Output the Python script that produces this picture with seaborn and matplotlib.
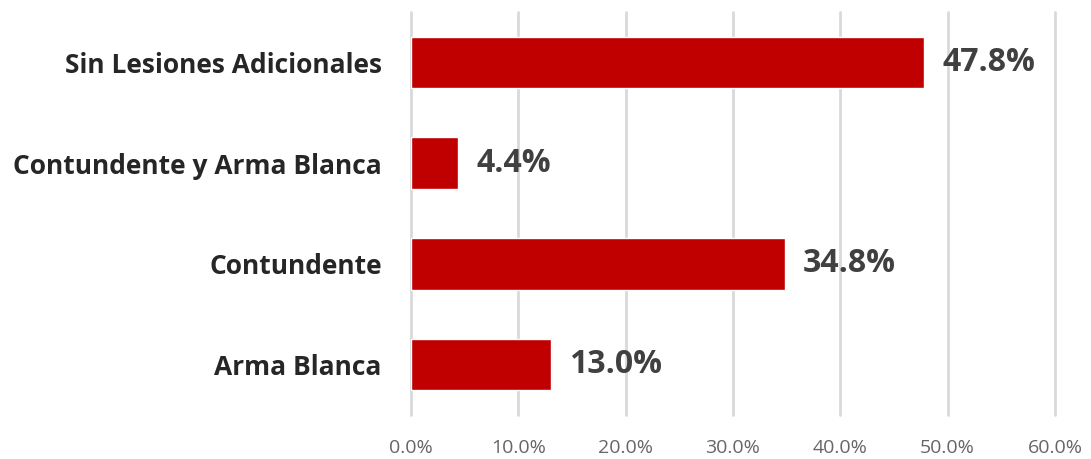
import matplotlib
matplotlib.use("Agg")
import matplotlib.pyplot as plt
import seaborn as sns
import pandas as pd
from matplotlib.ticker import PercentFormatter

categories = ["Sin Lesiones Adicionales", "Contundente y Arma Blanca", "Contundente", "Arma Blanca"]
values = [47.8, 4.4, 34.8, 13.0]

sns.set_style("white")
plt.rcParams['font.family'] = ['Open Sans', 'DejaVu Sans']

df = pd.DataFrame({"cat": categories, "val": values})

fig = plt.figure(figsize=(10.91, 4.59), dpi=100)
ax = fig.add_axes([0.3767, 0.096, 0.5903, 0.878])

sns.barplot(data=df, x="val", y="cat", color="#C00000", width=0.51, ax=ax, saturation=1)

ax.set_xlim(0, 60)
ax.set_xticks(range(0, 61, 10))
ax.xaxis.set_major_formatter(PercentFormatter(decimals=1))
ax.grid(axis="x", color="#d9d9d9", linewidth=2)
ax.set_axisbelow(True)
for line in ax.get_xgridlines():
    line.set_clip_on(False)
for s in ax.spines.values():
    s.set_visible(False)
ax.set_xlabel("")
ax.set_ylabel("")
ax.tick_params(axis="x", labelsize=14, colors="#666666", length=0, pad=17)
ax.tick_params(axis="y", length=0, pad=21)
for lab in ax.get_yticklabels():
    lab.set_fontsize(19)
    lab.set_fontweight("bold")
    lab.set_color("#262626")

for i, v in enumerate(values):
    ax.annotate(f"{v:.1f}%", (v, i), xytext=(13, 0), textcoords="offset points",
                va="center", ha="left", fontsize=23, fontweight="bold", color="#404040")

fig.savefig("out.png", dpi=100)
